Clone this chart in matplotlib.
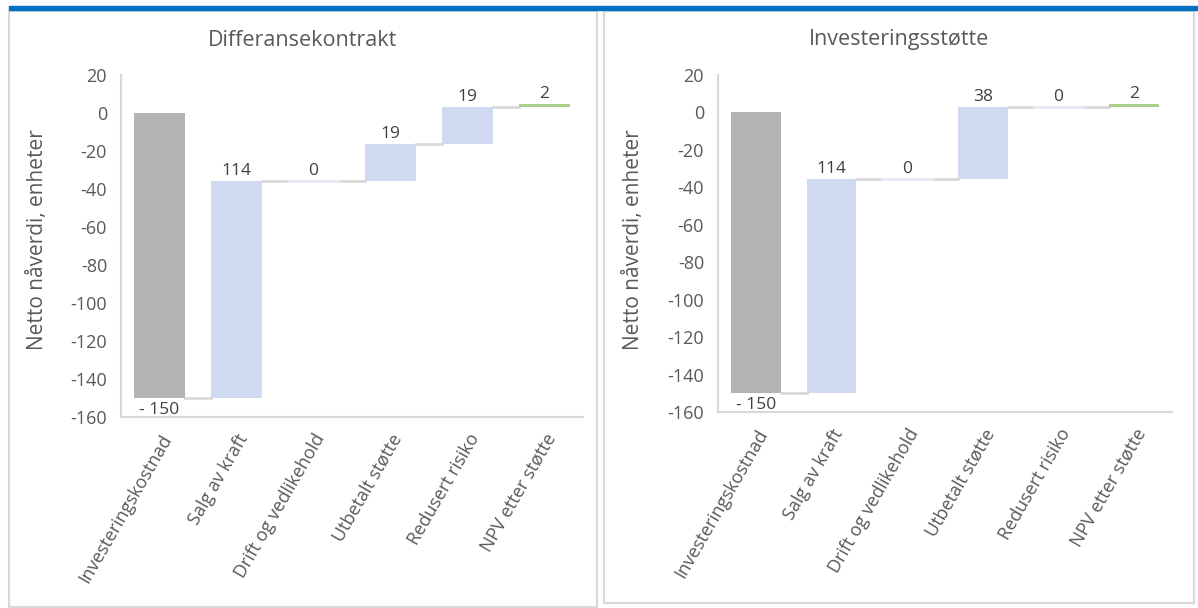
import matplotlib.pyplot as plt
from matplotlib.patches import Rectangle
import numpy as np

plt.rcParams['font.family'] = ['Open Sans', 'DejaVu Sans']

categories = ['Investeringskostnad', 'Salg av kraft', 'Drift og vedlikehold',
              'Utbetalt støtte', 'Redusert risiko', 'NPV etter støtte']
diff_values = [-150, 114.4, 0, 19.2, 19.4, 1.6]
inv_values = [-150, 114.4, 0, 38.4, 0, 1.6]
titles = ['Differansekontrakt', 'Investeringsstøtte']
yticks = np.arange(-160, 21, 20)

GRAY = '#b3b3b3'
BLUE = '#cfd9f0'
GREEN = '#a9d18e'
LINE = '#d9d9d9'
TXT = '#595959'
LBL = '#404040'

W, H = 1198, 608
fig = plt.figure(figsize=(W/100, H/100), dpi=100)


def fx(px):
    return px / W


def fy(py):
    return 1 - py / H


# frame + blue top rule
fig.patches.append(Rectangle((fx(9), fy(607)), fx(597-9), (607-11)/H, transform=fig.transFigure,
                             fill=False, ec=LINE, lw=1.5, zorder=0))
fig.patches.append(Rectangle((fx(604), fy(603)), fx(1194-604), (603-11)/H, transform=fig.transFigure,
                             fill=False, ec=LINE, lw=1.5, zorder=0))
fig.patches.append(Rectangle((fx(9), fy(10)), fx(1198-9), 4.5/H, transform=fig.transFigure,
                             color='#0070c0', zorder=1))

axes_px = [(121, 583, 75, 417), (718, 1172, 75, 412)]
title_x = [302, 899]
ylabel_x = [38, 633]
width = 0.66

for k, vals in enumerate([diff_values, inv_values]):
    x0, x1, y0, y1 = axes_px[k]
    ax = fig.add_axes([fx(x0), fy(y1), fx(x1 - x0), (y1 - y0)/H])
    x = np.arange(len(categories))
    cum = 0
    levels = []
    for i, v in enumerate(vals):
        if i == 0:
            bottom, h, col = 0, v, GRAY
        elif i == len(vals) - 1:
            bottom, h, col = cum, v, GREEN
        else:
            bottom, h, col = cum, v, BLUE
        if h != 0:
            ax.bar(x[i], h, bottom=bottom, width=width, color=col, zorder=2)
        else:
            ax.plot([x[i] - width/2, x[i] + width/2], [bottom, bottom], color='#e4e9f5', lw=2, zorder=2)
        if i < len(vals) - 1:
            cum = cum + v
        levels.append(cum)
        # data labels
        if v < 0:
            ax.text(x[i], bottom + h - 2.0, f'- {abs(v):.0f}', ha='center', va='top',
                    fontsize=12.5, color=LBL)
        else:
            ax.text(x[i], bottom + h + 1.0, f'{v:.0f}', ha='center', va='bottom',
                    fontsize=12.5, color=LBL)
    # connectors
    for i in range(len(vals) - 1):
        ax.plot([x[i] + width/2, x[i+1] - width/2], [levels[i], levels[i]],
                color=LINE, lw=2, zorder=1)

    ax.set_xlim(-0.5, len(categories) - 0.5)
    ax.set_ylim(-160, 20)
    ax.set_yticks(yticks)
    ax.set_yticklabels([str(t) for t in yticks], fontsize=13, color=TXT)
    ax.set_xticks(x)
    ax.set_xticklabels(categories, rotation=60, ha='right', rotation_mode='anchor',
                       fontsize=13, color=TXT)
    ax.tick_params(length=0, pad=10)
    for s in ['top', 'right']:
        ax.spines[s].set_visible(False)
    for s in ['left', 'bottom']:
        ax.spines[s].set_color(LINE)
        ax.spines[s].set_linewidth(1.5)
    fig.text(fx(title_x[k]), fy(40), titles[k], ha='center', va='center', fontsize=15.5, color=TXT)
    fig.text(fx(ylabel_x[k]), fy(240), 'Netto nåverdi, enheter', ha='center', va='center',
             rotation=90, fontsize=15, color=TXT)

fig.savefig('out.png', dpi=100)
